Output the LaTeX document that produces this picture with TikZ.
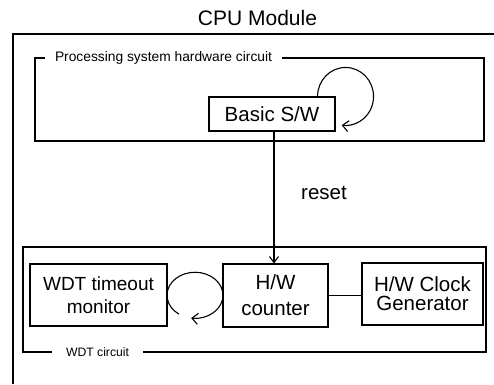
\documentclass[tikz,border=0pt]{standalone}
\usepackage{fontspec}
\setmainfont{Liberation Sans}
\usetikzlibrary{arrows.meta,calc}
\begin{document}
\begin{tikzpicture}[x=1pt,y=-1pt,line width=1.1pt,
  box/.style={draw,line width=1.1pt,inner sep=0pt,align=center},
  frame/.style={draw,line width=1.1pt,inner sep=0pt},
  lbl/.style={fill=white,inner ysep=1pt},
  barb/.style={-{Straight Barb[length=6pt,width=11pt]}},
]
\useasboundingbox (0,0) rectangle (494,384);
% title
\node (title) at (257.5,18) {\fontsize{21}{24}\selectfont CPU Module};
% outer (partial) frame
\coordinate (obl) at (13,384);
\coordinate (otl) at (13,34);
\coordinate (otr) at (494,34);
\draw (obl) -- (otl) -- (otr);
% processing frame
\node[frame,minimum width=449pt,minimum height=83pt] (proc) at (259.5,99.5) {};
\node[lbl,anchor=west,inner xsep=10pt,font=\fontsize{13.8}{16}\selectfont] (proclbl) at (proc.north west) [xshift=10pt] {Processing system hardware circuit};
% WDT frame
\node[frame,minimum width=463pt,minimum height=105pt] (wdt) at (254.5,299.5) {};
\node[lbl,anchor=west,inner xsep=14pt,font=\fontsize{12.2}{14}\selectfont] (wdtlbl) at (wdt.south west) [xshift=29pt] {WDT circuit};
% boxes
\node[box,minimum width=126pt,minimum height=34pt,font=\fontsize{20.5}{23}\selectfont] (sw) at (272,114) {Basic S/W};
\node[box,minimum width=137pt,minimum height=62pt,font=\fontsize{19}{23}\selectfont] (monitor) at (98.5,295) {WDT timeout\\monitor};
\node[box,minimum width=105pt,minimum height=63pt,font=\fontsize{20.5}{26}\selectfont] (counter) at (275.5,295.5) {H/W\\counter};
\node[box,minimum width=121pt,minimum height=62pt,font=\fontsize{20.5}{19}\selectfont] (clock) at (422.5,294) {H/W Clock\\Generator};
% reset
\node[font=\fontsize{20.5}{23}\selectfont] (reset) at (324,193) {reset};
\draw[-{Straight Barb[length=6pt,width=9pt]}] ([xshift=2pt]sw.south) -- ([xshift=-1.5pt]counter.north);
% counter -- clock
\draw (counter.east) -- (counter.east -| clock.west);
% loops
\draw[barb] ([xshift=-18pt]sw.north east) arc[start angle=180,end angle=458,x radius=28,y radius=29];
\coordinate (lc) at ($(monitor.east)!0.5!(counter.west)$);
\draw[barb] ([shift={(125:28 and 23)}]lc) arc[start angle=125,end angle=458,x radius=28,y radius=23];
\end{tikzpicture}
\end{document}
